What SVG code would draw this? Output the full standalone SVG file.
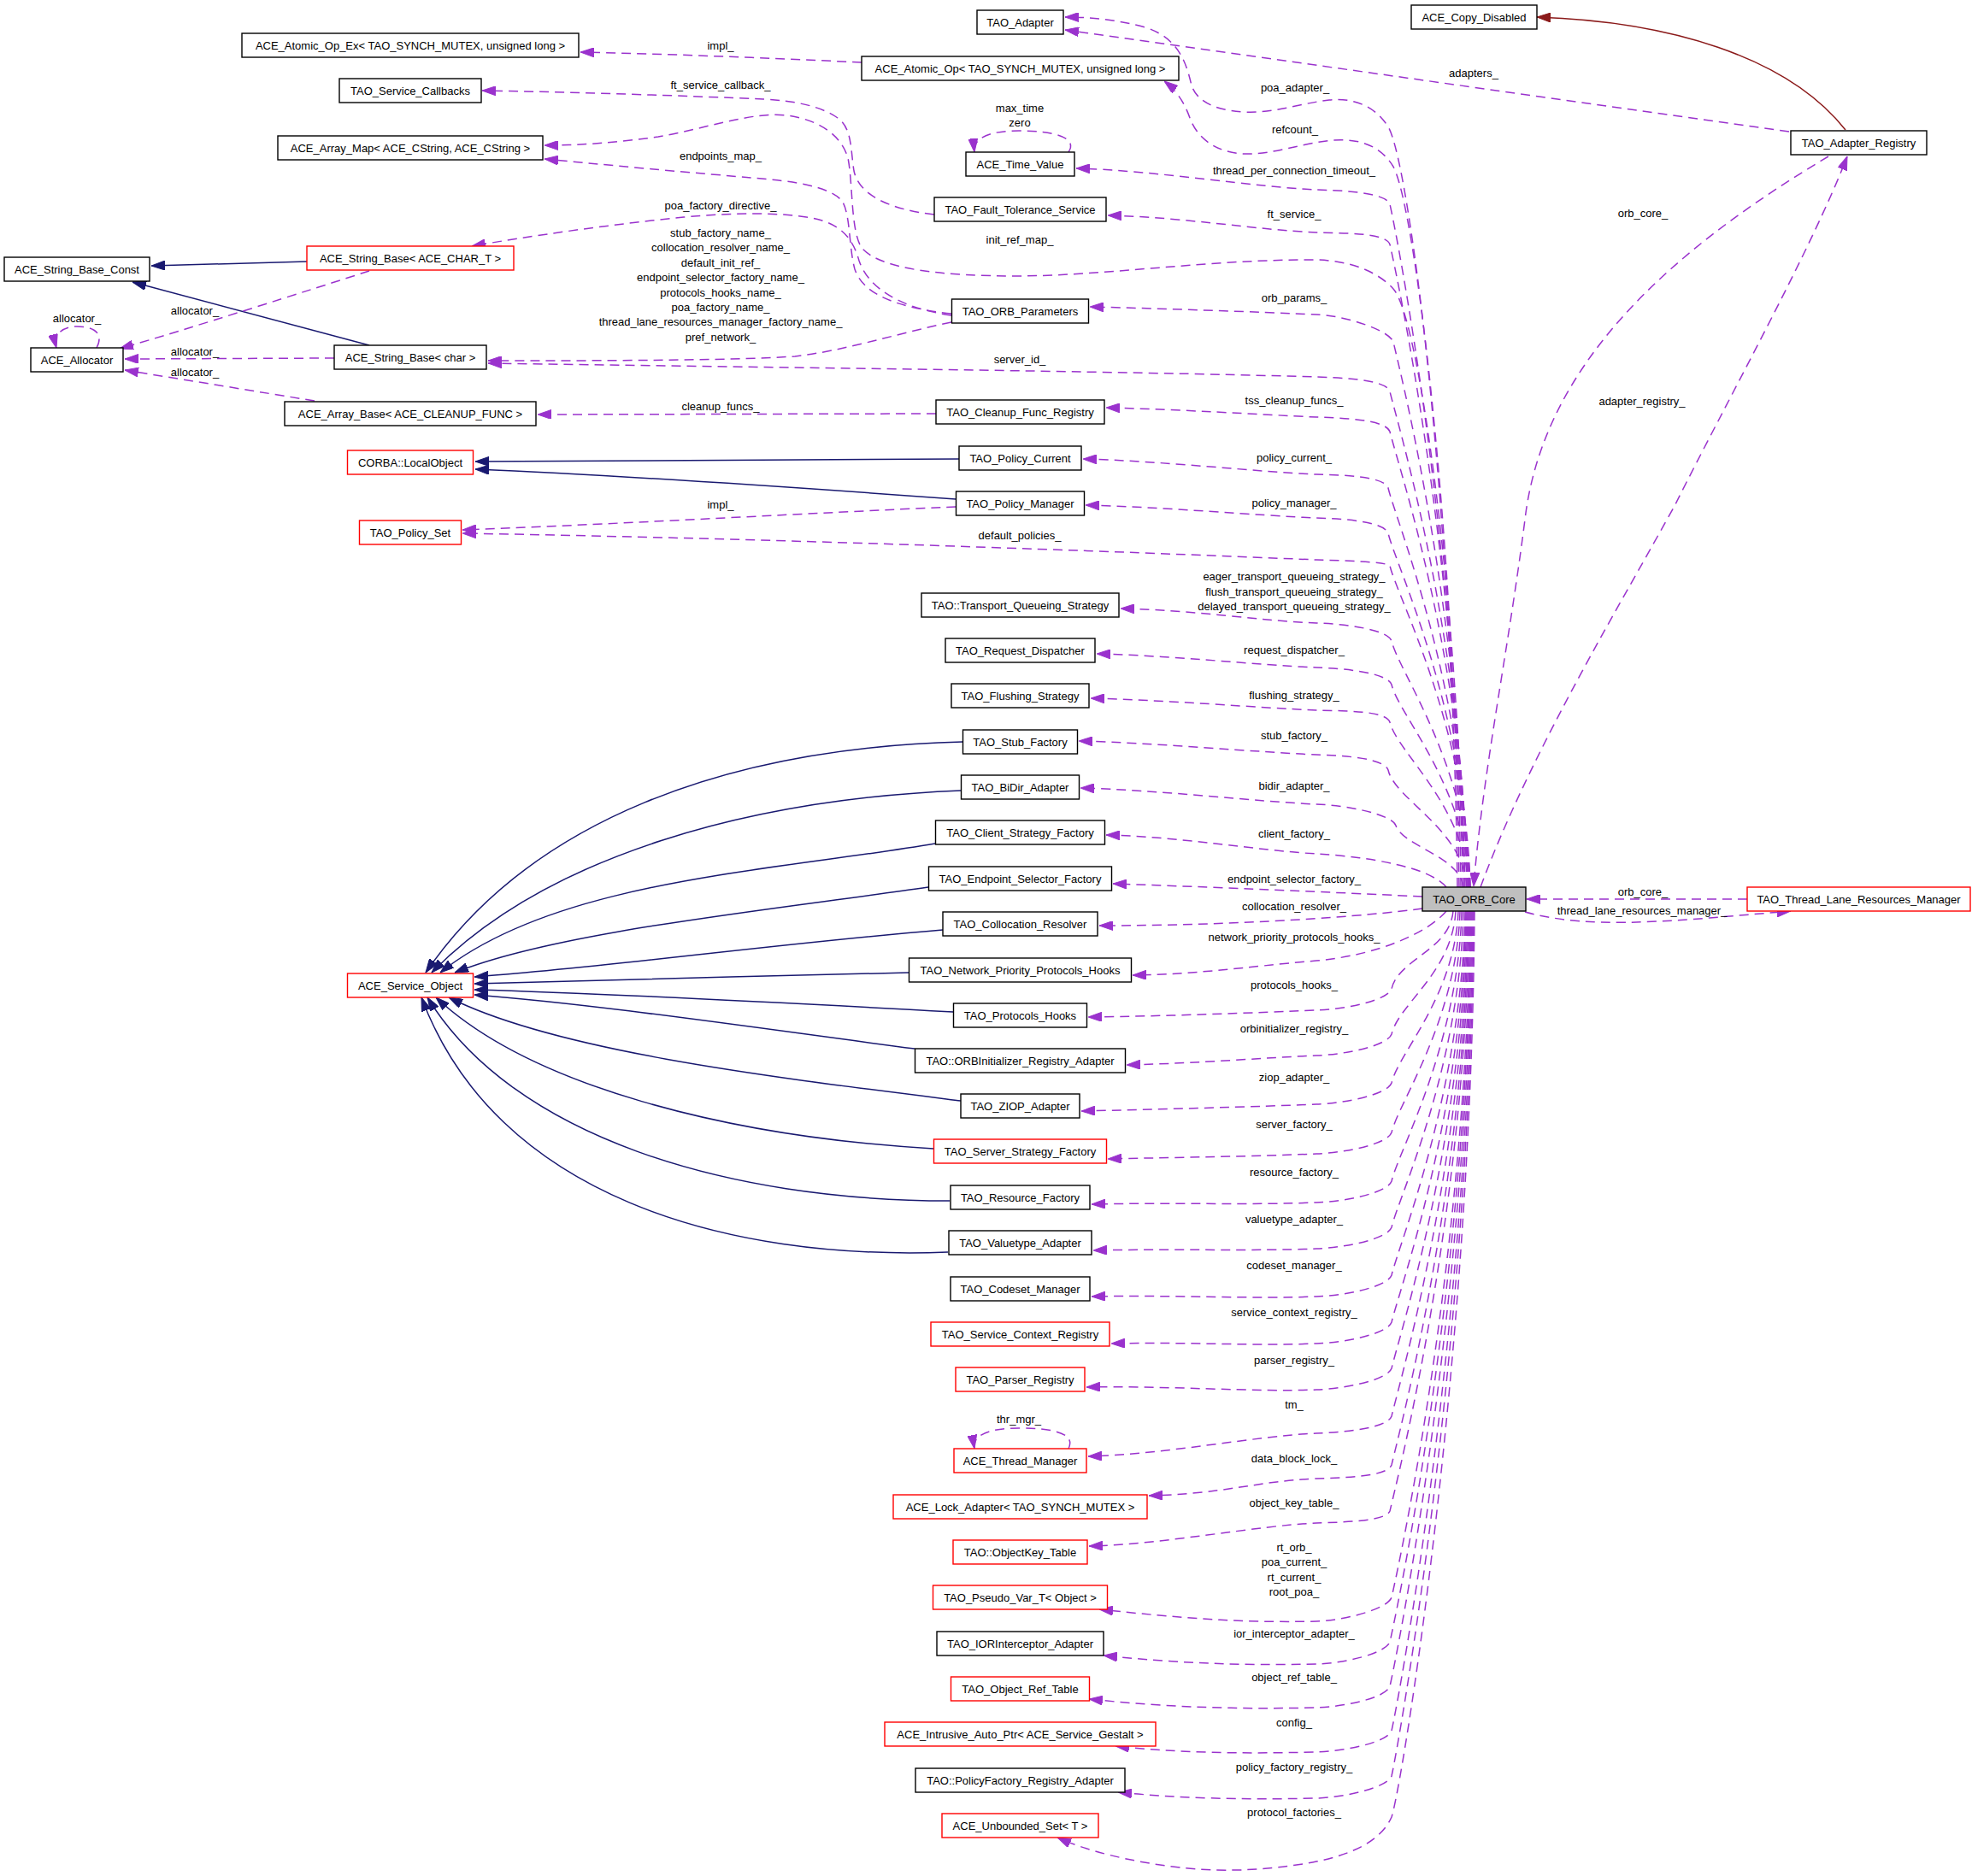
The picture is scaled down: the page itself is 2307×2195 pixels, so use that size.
<svg xmlns="http://www.w3.org/2000/svg" width="2307" height="2195" viewBox="0 0 2307 2195">
<defs>
<style>
text{font-family:"Liberation Sans",Arial,sans-serif;font-size:13px;fill:#000}
.n rect{fill:#fff;stroke:#000;stroke-width:1.4}
.r rect{fill:#fff;stroke:#ff0000;stroke-width:1.4}
.g rect{fill:#bfbfbf;stroke:#000;stroke-width:1.4}
.n text,.r text,.g text,.l{text-anchor:middle}
.d{fill:none;stroke:#9a32cd;stroke-width:1.5;stroke-dasharray:11,7;marker-end:url(#ap)}
.s{fill:none;stroke:#191970;stroke-width:1.5;marker-end:url(#an)}
.f{fill:none;stroke:#8b1a1a;stroke-width:1.5;marker-end:url(#af)}
</style>
<marker id="ap" viewBox="0 0 16 11" markerWidth="16" markerHeight="11" refX="16" refY="5.5" orient="auto" markerUnits="userSpaceOnUse"><path d="M0,0 L16,5.5 L0,11 z" fill="#9a32cd" stroke="#9a32cd"/></marker>
<marker id="an" viewBox="0 0 16 11" markerWidth="16" markerHeight="11" refX="16" refY="5.5" orient="auto" markerUnits="userSpaceOnUse"><path d="M0,0 L16,5.5 L0,11 z" fill="#191970" stroke="#191970"/></marker>
<marker id="af" viewBox="0 0 16 11" markerWidth="16" markerHeight="11" refX="16" refY="5.5" orient="auto" markerUnits="userSpaceOnUse"><path d="M0,0 L16,5.5 L0,11 z" fill="#8b1a1a" stroke="#8b1a1a"/></marker>
</defs>
<rect width="2307" height="2195" fill="#fff"/>
<g id="connectors">
<!-- inheritance -->
<path class="f" d="M2159,152 C2090,65 1950,25 1798,20"/>
<path class="s" d="M359,306 L177,311"/>
<path class="s" d="M432,404 L155,330"/>
<path class="s" d="M1122,537 L556,540"/>
<path class="s" d="M1118,584 C900,568 700,555 556,549"/>
<path class="s" d="M1126,868 C850,875 620,960 498,1138"/>
<path class="s" d="M1124,925 C880,935 640,1000 505,1138"/>
<path class="s" d="M1094,987 C900,1020 650,1030 515,1138"/>
<path class="s" d="M1086,1038 C900,1065 650,1090 532,1138"/>
<path class="s" d="M1103,1088 C900,1105 700,1133 555,1143"/>
<path class="s" d="M1063,1138 C900,1141 700,1148 555,1151"/>
<path class="s" d="M1115,1184 C950,1175 700,1162 555,1158"/>
<path class="s" d="M1070,1227 C900,1205 700,1175 555,1164"/>
<path class="s" d="M1124,1288 C900,1260 650,1230 525,1167"/>
<path class="s" d="M1092,1344 C850,1330 620,1270 510,1167"/>
<path class="s" d="M1111,1405 C850,1405 600,1330 500,1167"/>
<path class="s" d="M1109,1465 C850,1475 580,1400 493,1167"/>
<!-- members, left cluster -->
<path class="d" d="M1008,73 C900,68 780,63 679,61"/>
<path class="d" d="M1093,251 C1040,245 1005,228 999,200 C995,175 997,150 980,138 C960,124 930,118 893,116 C800,112 680,108 564,106"/>
<path class="d" d="M1713,1038 C1705,700 1660,370 1630,338 C1612,318 1580,305 1540,304 C1420,303 1300,322 1193,323 C1100,323 1030,315 1008,290 C995,270 998,215 992,185 C985,160 960,140 920,135 C880,130 820,152 770,160 C720,167 680,170 637,170"/>
<path class="d" d="M1113,367 C1050,360 1010,345 1000,315 C993,290 995,250 985,235 C970,218 930,212 880,208 C820,203 730,195 637,186"/>
<path class="d" d="M1113,369 C1050,360 1015,335 1005,305 C998,280 985,262 950,255 C910,248 860,249 800,254 C720,262 620,276 552,288"/>
<path class="d" d="M1113,377 C1050,390 990,410 930,417 C850,422 700,422 571,422"/>
<path class="d" d="M432,317 C360,340 220,385 140,408"/>
<path class="d" d="M391,419 L146,420"/>
<path class="d" d="M368,469 C300,458 220,445 146,433"/>
<path class="d" d="M113,407 C122,390 110,382 90,382 C72,382 62,392 66,407"/>
<path class="d" d="M1095,484 L629,485"/>
<path class="d" d="M1118,593 C950,600 750,612 541,620"/>
<path class="d" d="M1250,178 C1262,160 1230,153 1192,153 C1160,153 1138,160 1140,178"/>
<path class="d" d="M1250,1695 C1260,1675 1225,1671 1192,1671 C1160,1671 1137,1678 1140,1695"/>
<!-- from TAO_ORB_Core, upper -->
<path class="d" d="M1705,1038 C1700,600 1650,200 1625,150 C1610,125 1585,114 1555,117 C1520,121 1490,133 1455,131 C1420,129 1400,118 1394,100 C1388,75 1380,45 1340,32 C1310,24 1280,20 1246,20"/>
<path class="d" d="M2093,154 L1246,35"/>
<path class="d" d="M1707,1038 C1702,620 1655,240 1630,195 C1615,170 1590,162 1560,164 C1520,168 1490,181 1455,180 C1420,178 1400,160 1392,138 C1385,118 1375,105 1362,95"/>
<path class="d" d="M1709,1038 C1705,638 1634,274 1626,239 C1621,225 1572,223 1540,222 C1470,219 1347,199 1259,197"/>
<path class="d" d="M1711,1038 C1707,662 1634,321 1626,286 C1621,272 1572,273 1540,272 C1470,269 1384,254 1296,252"/>
<path class="d" d="M1714,1038 C1710,719 1638,435 1630,400 C1625,386 1572,369 1540,368 C1470,365 1363,361 1275,359"/>
<path class="d" d="M1716,1038 C1712,748 1634,493 1626,458 C1621,444 1572,442 1540,441 C1300,434 900,430 571,425"/>
<path class="d" d="M1717,1038 C1713,772 1634,540 1626,505 C1621,491 1572,489 1540,488 C1470,485 1382,479 1294,477"/>
<path class="d" d="M1718,1038 C1714,805 1632,606 1624,571 C1619,557 1572,556 1540,555 C1470,552 1355,539 1267,537"/>
<path class="d" d="M1719,1038 C1715,831 1632,659 1624,624 C1619,610 1572,607 1540,606 C1470,603 1358,593 1270,591"/>
<path class="d" d="M1720,1038 C1716,850 1634,697 1626,662 C1621,657 1572,656 1540,655 C1300,645 900,630 541,624"/>
<path class="d" d="M1720,1038 C1716,894 1636,785 1628,750 C1623,736 1572,730 1540,729 C1470,726 1399,714 1311,712"/>
<path class="d" d="M1719,1038 C1715,920 1636,836 1628,801 C1623,787 1572,782 1540,781 C1470,778 1371,767 1283,765"/>
<path class="d" d="M1718,1038 C1714,942 1634,880 1626,845 C1621,831 1572,832 1540,831 C1470,828 1364,819 1276,817"/>
<path class="d" d="M1716,1038 C1712,970 1632,936 1624,901 C1619,887 1572,884 1540,883 C1470,880 1350,869 1262,867"/>
<path class="d" d="M1712,1038 C1708,1002 1641,990 1633,966 C1628,952 1572,942 1540,941 C1470,938 1352,924 1264,922"/>
<path class="d" d="M1692,1038 C1685,1030 1675,1025 1663,1020 C1630,1008 1580,1001 1540,999 C1470,995 1382,979 1294,977"/>
<path class="d" d="M1664,1049 C1600,1046 1450,1039 1302,1034"/>
<path class="d" d="M1664,1063 C1600,1072 1450,1083 1286,1083"/>
<!-- from TAO_ORB_Core, lower -->
<path class="d" d="M1692,1066 C1670,1092 1610,1118 1540,1124 C1450,1132 1400,1140 1325,1141"/>
<path class="d" d="M1700,1066 C1696,1112 1636,1122 1628,1157 C1623,1171 1572,1181 1540,1182 C1470,1185 1361,1189 1273,1190"/>
<path class="d" d="M1703,1066 C1699,1138 1636,1175 1628,1210 C1623,1224 1572,1234 1540,1235 C1470,1238 1406,1244 1318,1246"/>
<path class="d" d="M1706,1066 C1702,1166 1636,1232 1628,1267 C1623,1281 1572,1291 1540,1292 C1470,1295 1353,1298 1265,1300"/>
<path class="d" d="M1708,1066 C1704,1195 1636,1290 1628,1325 C1623,1339 1572,1349 1540,1350 C1470,1353 1384,1354 1296,1356"/>
<path class="d" d="M1710,1066 C1706,1224 1636,1347 1628,1382 C1623,1396 1572,1406 1540,1407 C1470,1410 1365,1407 1277,1409"/>
<path class="d" d="M1712,1066 C1708,1251 1636,1401 1628,1436 C1623,1450 1572,1460 1540,1461 C1470,1464 1367,1461 1279,1463"/>
<path class="d" d="M1714,1066 C1710,1279 1636,1457 1628,1492 C1623,1506 1572,1516 1540,1517 C1470,1520 1365,1515 1277,1517"/>
<path class="d" d="M1715,1066 C1711,1306 1636,1512 1628,1547 C1623,1561 1572,1571 1540,1572 C1470,1575 1388,1570 1300,1572"/>
<path class="d" d="M1716,1066 C1712,1333 1636,1566 1628,1601 C1623,1615 1572,1625 1540,1626 C1470,1629 1359,1621 1271,1623"/>
<path class="d" d="M1717,1066 C1713,1361 1636,1622 1628,1657 C1623,1671 1572,1676 1540,1677 C1470,1680 1361,1702 1273,1704"/>
<path class="d" d="M1718,1066 C1714,1390 1636,1679 1628,1714 C1623,1728 1572,1729 1540,1730 C1470,1733 1432,1748 1344,1750"/>
<path class="d" d="M1719,1066 C1715,1417 1634,1733 1626,1768 C1621,1780 1572,1781 1540,1782 C1470,1785 1362,1807 1274,1809"/>
<path class="d" d="M1720,1066 C1716,1468 1636,1834 1628,1869 C1623,1883 1572,1896 1540,1897 C1450,1899 1380,1893 1286,1883"/>
<path class="d" d="M1721,1066 C1717,1494 1634,1886 1626,1921 C1621,1935 1572,1946 1540,1947 C1450,1949 1380,1946 1291,1937"/>
<path class="d" d="M1722,1066 C1718,1520 1634,1938 1626,1973 C1621,1987 1572,1997 1540,1998 C1450,2000 1370,1998 1274,1988"/>
<path class="d" d="M1723,1066 C1719,1546 1636,1990 1628,2025 C1623,2039 1572,2049 1540,2050 C1450,2052 1380,2051 1305,2043"/>
<path class="d" d="M1724,1066 C1720,1572 1636,2043 1628,2078 C1623,2092 1572,2103 1540,2104 C1450,2106 1380,2104 1308,2097"/>
<path class="d" d="M1725,1066 C1721,1596 1640,2090 1628,2126 C1615,2155 1580,2170 1540,2178 C1480,2190 1420,2190 1380,2185 C1320,2178 1270,2165 1237,2150"/>
<!-- right side -->
<path class="d" d="M2139,183 C1960,290 1810,420 1785,600 C1765,760 1735,900 1724,1037"/>
<path class="d" d="M1732,1038 C1790,880 1900,700 1960,590 C2020,470 2120,290 2161,183"/>
<path class="d" d="M2044,1052 L1786,1052"/>
<path class="d" d="M1784,1067 C1840,1082 1900,1082 2000,1074 L2095,1066"/>
</g>
<g id="edge-labels">
<text class="l" x="843" y="57.5">impl_</text>
<text class="l" x="843" y="104">ft_service_callback_</text>
<text class="l" x="843" y="187">endpoints_map_</text>
<text class="l" x="843" y="244.5">poa_factory_directive_</text>
<text class="l" x="843" y="277">stub_factory_name_</text>
<text class="l" x="843" y="294.4">collocation_resolver_name_</text>
<text class="l" x="843" y="311.8">default_init_ref_</text>
<text class="l" x="843" y="329.2">endpoint_selector_factory_name_</text>
<text class="l" x="843" y="346.6">protocols_hooks_name_</text>
<text class="l" x="843" y="364">poa_factory_name_</text>
<text class="l" x="843" y="381.4">thread_lane_resources_manager_factory_name_</text>
<text class="l" x="843" y="398.8">pref_network_</text>
<text class="l" x="1193" y="284.5">init_ref_map_</text>
<text class="l" x="1193" y="425">server_id_</text>
<text class="l" x="843" y="480">cleanup_funcs_</text>
<text class="l" x="90" y="377">allocator_</text>
<text class="l" x="228" y="367.5">allocator_</text>
<text class="l" x="228" y="415.5">allocator_</text>
<text class="l" x="228" y="439.5">allocator_</text>
<text class="l" x="843" y="594.5">impl_</text>
<text class="l" x="1193" y="631">default_policies_</text>
<text class="l" x="1193" y="131">max_time</text>
<text class="l" x="1193" y="148.3">zero</text>
<text class="l" x="1192" y="1665">thr_mgr_</text>
<text class="l" x="1515" y="106.5">poa_adapter_</text>
<text class="l" x="1515" y="155.5">refcount_</text>
<text class="l" x="1514" y="204">thread_per_connection_timeout_</text>
<text class="l" x="1514" y="255">ft_service_</text>
<text class="l" x="1514" y="353">orb_params_</text>
<text class="l" x="1514" y="473">tss_cleanup_funcs_</text>
<text class="l" x="1514" y="539.5">policy_current_</text>
<text class="l" x="1514" y="592.5">policy_manager_</text>
<text class="l" x="1514" y="679">eager_transport_queueing_strategy_</text>
<text class="l" x="1514" y="696.5">flush_transport_queueing_strategy_</text>
<text class="l" x="1514" y="713.5">delayed_transport_queueing_strategy_</text>
<text class="l" x="1514" y="765">request_dispatcher_</text>
<text class="l" x="1514" y="817.5">flushing_strategy_</text>
<text class="l" x="1514" y="864.5">stub_factory_</text>
<text class="l" x="1514" y="924">bidir_adapter_</text>
<text class="l" x="1514" y="979.5">client_factory_</text>
<text class="l" x="1514" y="1032.5">endpoint_selector_factory_</text>
<text class="l" x="1514" y="1064.5">collocation_resolver_</text>
<text class="l" x="1514" y="1100.5">network_priority_protocols_hooks_</text>
<text class="l" x="1514" y="1157">protocols_hooks_</text>
<text class="l" x="1514" y="1208.3">orbinitializer_registry_</text>
<text class="l" x="1514" y="1264.5">ziop_adapter_</text>
<text class="l" x="1514" y="1320">server_factory_</text>
<text class="l" x="1514" y="1375.5">resource_factory_</text>
<text class="l" x="1514" y="1431">valuetype_adapter_</text>
<text class="l" x="1514" y="1485">codeset_manager_</text>
<text class="l" x="1514" y="1540">service_context_registry_</text>
<text class="l" x="1514" y="1595.5">parser_registry_</text>
<text class="l" x="1514" y="1648">tm_</text>
<text class="l" x="1514" y="1711">data_block_lock_</text>
<text class="l" x="1514" y="1763">object_key_table_</text>
<text class="l" x="1514" y="1815">rt_orb_</text>
<text class="l" x="1514" y="1832.3">poa_current_</text>
<text class="l" x="1514" y="1849.6">rt_current_</text>
<text class="l" x="1514" y="1866.9">root_poa_</text>
<text class="l" x="1514" y="1916">ior_interceptor_adapter_</text>
<text class="l" x="1514" y="1967.3">object_ref_table_</text>
<text class="l" x="1514" y="2019.5">config_</text>
<text class="l" x="1514" y="2071.5">policy_factory_registry_</text>
<text class="l" x="1514" y="2124.5">protocol_factories_</text>
<text class="l" x="1724" y="89.5">adapters_</text>
<text class="l" x="1922" y="253.5">orb_core_</text>
<text class="l" x="1921" y="473.5">adapter_registry_</text>
<text class="l" x="1922" y="1047.5">orb_core_</text>
<text class="l" x="1921" y="1069.5">thread_lane_resources_manager_</text>
</g>
<g id="ACE_Atomic_Op_Ex" class="n"><rect x="283" y="39" width="394" height="28"/><text x="480" y="57.5">ACE_Atomic_Op_Ex&lt; TAO_SYNCH_MUTEX, unsigned long &gt;</text></g>
<g id="TAO_Service_Callbacks" class="n"><rect x="397" y="92" width="166" height="28"/><text x="480" y="110.5">TAO_Service_Callbacks</text></g>
<g id="ACE_Array_Map" class="n"><rect x="325" y="159" width="310" height="28"/><text x="480" y="177.5">ACE_Array_Map&lt; ACE_CString, ACE_CString &gt;</text></g>
<g id="ACE_String_Base_ACE_CHAR_T" class="r"><rect x="359" y="288" width="242" height="28"/><text x="480" y="306.5">ACE_String_Base&lt; ACE_CHAR_T &gt;</text></g>
<g id="ACE_String_Base_Const" class="n"><rect x="5" y="301" width="170" height="28"/><text x="90" y="319.5">ACE_String_Base_Const</text></g>
<g id="ACE_Allocator" class="n"><rect x="36" y="407" width="108" height="28"/><text x="90" y="425.5">ACE_Allocator</text></g>
<g id="ACE_String_Base_char" class="n"><rect x="391" y="404" width="178" height="28"/><text x="480" y="422.5">ACE_String_Base&lt; char &gt;</text></g>
<g id="ACE_Array_Base" class="n"><rect x="333" y="470" width="294" height="28"/><text x="480" y="488.5">ACE_Array_Base&lt; ACE_CLEANUP_FUNC &gt;</text></g>
<g id="CORBA_LocalObject" class="r"><rect x="406.5" y="527" width="147" height="28"/><text x="480" y="545.5">CORBA::LocalObject</text></g>
<g id="TAO_Policy_Set" class="r"><rect x="420.5" y="609" width="119" height="28"/><text x="480" y="627.5">TAO_Policy_Set</text></g>
<g id="ACE_Service_Object" class="r"><rect x="406.5" y="1139" width="147" height="28"/><text x="480" y="1157.5">ACE_Service_Object</text></g>
<g id="TAO_Adapter" class="n"><rect x="1143" y="12" width="101" height="28"/><text x="1193.5" y="30.5">TAO_Adapter</text></g>
<g id="ACE_Atomic_Op" class="n"><rect x="1008" y="66" width="371" height="28"/><text x="1193.5" y="84.5">ACE_Atomic_Op&lt; TAO_SYNCH_MUTEX, unsigned long &gt;</text></g>
<g id="ACE_Time_Value" class="n"><rect x="1130" y="178" width="127" height="28"/><text x="1193.5" y="196.5">ACE_Time_Value</text></g>
<g id="TAO_Fault_Tolerance_Service" class="n"><rect x="1093" y="231" width="201" height="28"/><text x="1193.5" y="249.5">TAO_Fault_Tolerance_Service</text></g>
<g id="TAO_ORB_Parameters" class="n"><rect x="1113.5" y="350" width="160" height="28"/><text x="1193.5" y="368.5">TAO_ORB_Parameters</text></g>
<g id="TAO_Cleanup_Func_Registry" class="n"><rect x="1095" y="468" width="197" height="28"/><text x="1193.5" y="486.5">TAO_Cleanup_Func_Registry</text></g>
<g id="TAO_Policy_Current" class="n"><rect x="1122" y="522" width="143" height="28"/><text x="1193.5" y="540.5">TAO_Policy_Current</text></g>
<g id="TAO_Policy_Manager" class="n"><rect x="1118.5" y="575" width="150" height="28"/><text x="1193.5" y="593.5">TAO_Policy_Manager</text></g>
<g id="TAO_Transport_Queueing_Strategy" class="n"><rect x="1078" y="694" width="231" height="28"/><text x="1193.5" y="712.5">TAO::Transport_Queueing_Strategy</text></g>
<g id="TAO_Request_Dispatcher" class="n"><rect x="1106" y="747" width="175" height="28"/><text x="1193.5" y="765.5">TAO_Request_Dispatcher</text></g>
<g id="TAO_Flushing_Strategy" class="n"><rect x="1113" y="800" width="161" height="28"/><text x="1193.5" y="818.5">TAO_Flushing_Strategy</text></g>
<g id="TAO_Stub_Factory" class="n"><rect x="1126.5" y="854" width="134" height="28"/><text x="1193.5" y="872.5">TAO_Stub_Factory</text></g>
<g id="TAO_BiDir_Adapter" class="n"><rect x="1124.5" y="907" width="138" height="28"/><text x="1193.5" y="925.5">TAO_BiDir_Adapter</text></g>
<g id="TAO_Client_Strategy_Factory" class="n"><rect x="1094.5" y="960" width="198" height="28"/><text x="1193.5" y="978.5">TAO_Client_Strategy_Factory</text></g>
<g id="TAO_Endpoint_Selector_Factory" class="n"><rect x="1086.5" y="1014" width="214" height="28"/><text x="1193.5" y="1032.5">TAO_Endpoint_Selector_Factory</text></g>
<g id="TAO_Collocation_Resolver" class="n"><rect x="1103" y="1067" width="181" height="28"/><text x="1193.5" y="1085.5">TAO_Collocation_Resolver</text></g>
<g id="TAO_Network_Priority_Protocols_Hooks" class="n"><rect x="1063.5" y="1121" width="260" height="28"/><text x="1193.5" y="1139.5">TAO_Network_Priority_Protocols_Hooks</text></g>
<g id="TAO_Protocols_Hooks" class="n"><rect x="1115.5" y="1174" width="156" height="28"/><text x="1193.5" y="1192.5">TAO_Protocols_Hooks</text></g>
<g id="TAO_ORBInitializer_Registry_Adapter" class="n"><rect x="1070.5" y="1227" width="246" height="28"/><text x="1193.5" y="1245.5">TAO::ORBInitializer_Registry_Adapter</text></g>
<g id="TAO_ZIOP_Adapter" class="n"><rect x="1124" y="1280" width="139" height="28"/><text x="1193.5" y="1298.5">TAO_ZIOP_Adapter</text></g>
<g id="TAO_Server_Strategy_Factory" class="r"><rect x="1092.5" y="1333" width="202" height="28"/><text x="1193.5" y="1351.5">TAO_Server_Strategy_Factory</text></g>
<g id="TAO_Resource_Factory" class="n"><rect x="1112" y="1387" width="163" height="28"/><text x="1193.5" y="1405.5">TAO_Resource_Factory</text></g>
<g id="TAO_Valuetype_Adapter" class="n"><rect x="1110" y="1440" width="167" height="28"/><text x="1193.5" y="1458.5">TAO_Valuetype_Adapter</text></g>
<g id="TAO_Codeset_Manager" class="n"><rect x="1112" y="1494" width="163" height="28"/><text x="1193.5" y="1512.5">TAO_Codeset_Manager</text></g>
<g id="TAO_Service_Context_Registry" class="r"><rect x="1089" y="1547" width="209" height="28"/><text x="1193.5" y="1565.5">TAO_Service_Context_Registry</text></g>
<g id="TAO_Parser_Registry" class="r"><rect x="1118" y="1600" width="151" height="28"/><text x="1193.5" y="1618.5">TAO_Parser_Registry</text></g>
<g id="ACE_Thread_Manager" class="r"><rect x="1116" y="1695" width="155" height="28"/><text x="1193.5" y="1713.5">ACE_Thread_Manager</text></g>
<g id="ACE_Lock_Adapter" class="r"><rect x="1045" y="1749" width="297" height="28"/><text x="1193.5" y="1767.5">ACE_Lock_Adapter&lt; TAO_SYNCH_MUTEX &gt;</text></g>
<g id="TAO_ObjectKey_Table" class="r"><rect x="1115" y="1802" width="157" height="28"/><text x="1193.5" y="1820.5">TAO::ObjectKey_Table</text></g>
<g id="TAO_Pseudo_Var_T" class="r"><rect x="1091.5" y="1855" width="204" height="28"/><text x="1193.5" y="1873.5">TAO_Pseudo_Var_T&lt; Object &gt;</text></g>
<g id="TAO_IORInterceptor_Adapter" class="n"><rect x="1096" y="1909" width="195" height="28"/><text x="1193.5" y="1927.5">TAO_IORInterceptor_Adapter</text></g>
<g id="TAO_Object_Ref_Table" class="r"><rect x="1112.5" y="1962" width="162" height="28"/><text x="1193.5" y="1980.5">TAO_Object_Ref_Table</text></g>
<g id="ACE_Intrusive_Auto_Ptr" class="r"><rect x="1035" y="2015" width="317" height="28"/><text x="1193.5" y="2033.5">ACE_Intrusive_Auto_Ptr&lt; ACE_Service_Gestalt &gt;</text></g>
<g id="TAO_PolicyFactory_Registry_Adapter" class="n"><rect x="1071" y="2069" width="245" height="28"/><text x="1193.5" y="2087.5">TAO::PolicyFactory_Registry_Adapter</text></g>
<g id="ACE_Unbounded_Set" class="r"><rect x="1102" y="2122" width="183" height="28"/><text x="1193.5" y="2140.5">ACE_Unbounded_Set&lt; T &gt;</text></g>
<g id="ACE_Copy_Disabled" class="n"><rect x="1651" y="6" width="147" height="28"/><text x="1724.5" y="24.5">ACE_Copy_Disabled</text></g>
<g id="TAO_Adapter_Registry" class="n"><rect x="2095" y="153" width="159" height="28"/><text x="2174.5" y="171.5">TAO_Adapter_Registry</text></g>
<g id="TAO_ORB_Core" class="g"><rect x="1664" y="1038" width="121" height="28"/><text x="1724.5" y="1056.5">TAO_ORB_Core</text></g>
<g id="TAO_Thread_Lane_Resources_Manager" class="r"><rect x="2044" y="1038" width="261" height="28"/><text x="2174.5" y="1056.5">TAO_Thread_Lane_Resources_Manager</text></g>
</svg>
